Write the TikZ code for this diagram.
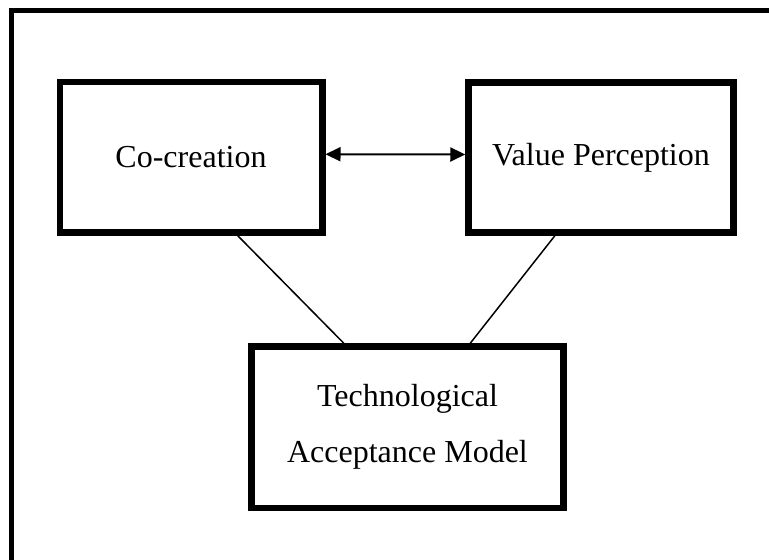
\documentclass[tikz,border=0pt]{standalone}
\usepackage{fontspec}
\setmainfont{Liberation Serif}
\usepackage{tikz}
\usetikzlibrary{arrows.meta,positioning,calc}

\tikzset{
  conceptbox/.style={draw, line width=3.25pt, align=center, inner sep=0pt,
    font=\fontsize{16}{28}\selectfont},
  link/.style={line width=0.75pt}
}

\begin{document}
\begin{tikzpicture}[x=0.5pt, y=-0.5pt]
  \useasboundingbox (0,0) rectangle (769,560);
  \clip (0,0) rectangle (769,560);
  \draw[line width=2.5pt] (11.5,10.5) rectangle (800,600);

  \node[conceptbox, minimum width=131.25pt, minimum height=75.25pt] (cocreation) at (191,157.25) {Co-creation};
  \node[conceptbox, minimum width=132.5pt, minimum height=75pt] (value) at (601,157.5) {Value Perception};
  \node[conceptbox, minimum width=156pt, minimum height=80.75pt] (tam) at (407.5,427.25) {Technological\\Acceptance Model};

  \draw[line width=1pt, {Triangle[length=7.5pt,width=7pt]}-{Triangle[length=7.5pt,width=7pt]}]
    ([yshift=1.5pt]cocreation.east) -- ([yshift=1.5pt]value.west);
  \draw[link] ($(cocreation.south west)!0.674!(cocreation.south east)$) -- ($(tam.north west)!0.3!(tam.north east)$);
  \draw[link] ($(value.south west)!0.33!(value.south east)$) -- ($(tam.north west)!0.697!(tam.north east)$);
\end{tikzpicture}
\end{document}
